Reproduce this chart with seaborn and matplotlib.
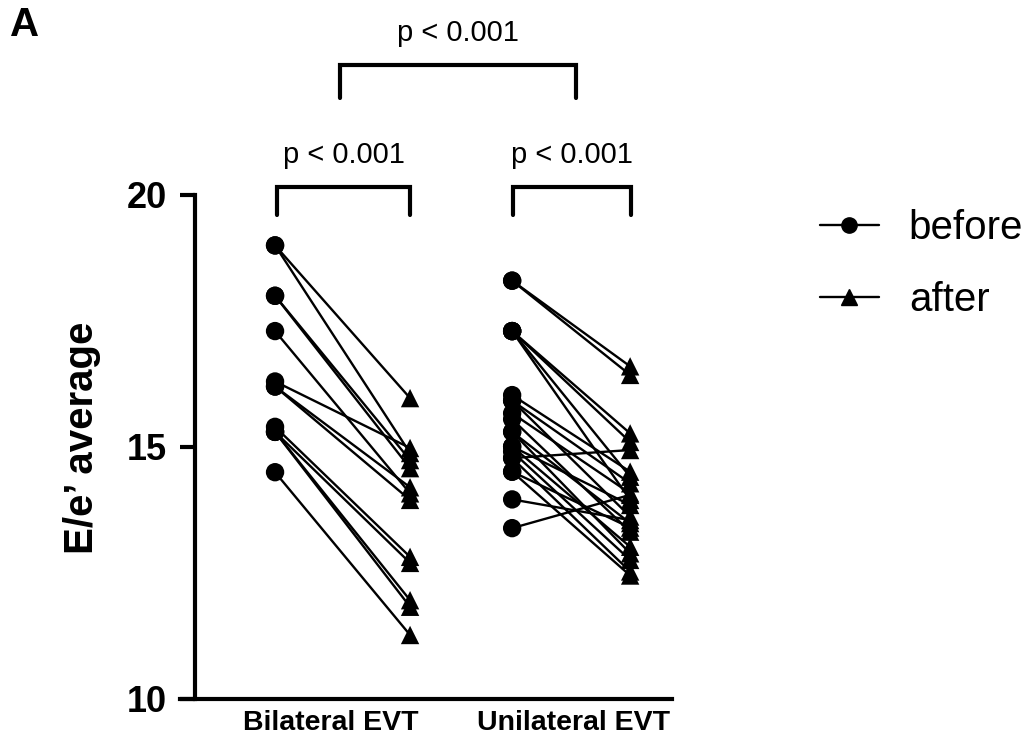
import numpy as np
import pandas as pd
import seaborn as sns
import matplotlib
matplotlib.use("Agg")
import matplotlib.pyplot as plt
from matplotlib.lines import Line2D

# ---------------- data ----------------
groups = ["Bilateral EVT", "Unilateral EVT"]
times = ["before", "after"]

bilateral_before = [19.0, 19.0, 18.0, 18.0, 17.3, 16.3, 16.2, 16.2, 15.4, 15.3, 15.3, 15.3, 14.5]
bilateral_after = [15.97, 14.88, 14.74, 14.58, 14.08, 14.98, 14.2, 13.95, 12.82, 12.7, 11.96, 11.83, 11.27]

unilateral_before = [18.3, 18.3, 17.3, 17.3, 17.3, 17.3, 16.03, 15.92, 15.92, 15.67, 15.55,
                     15.3, 15.3, 15.01, 14.78, 14.91, 14.78, 14.51, 14.51, 13.96, 13.39, 15.01]
unilateral_after = [16.6, 16.43, 15.27, 15.10, 14.41, 13.95, 14.51, 14.28, 13.62, 14.08, 13.32,
                    13.49, 12.89, 13.02, 14.94, 12.76, 12.53, 12.45, 13.4, 13.55, 14.05, 13.85]

p_labels = ["p < 0.001", "p < 0.001", "p < 0.001"]
y_ticks = [10, 15, 20]
y_label = "E/e\u2019 average"

# ---------------- layout (positions, not data) ----------------
xpos = {("Bilateral EVT", "before"): 0.0, ("Bilateral EVT", "after"): 1.0,
        ("Unilateral EVT", "before"): 1.756, ("Unilateral EVT", "after"): 2.63}
label_pos = [0.41, 2.21]

rows = []
sid = 0
for g, bef, aft in [("Bilateral EVT", bilateral_before, bilateral_after),
                    ("Unilateral EVT", unilateral_before, unilateral_after)]:
    for b, a in zip(bef, aft):
        rows.append(dict(group=g, time="before", subject=sid, value=b, x=xpos[(g, "before")]))
        rows.append(dict(group=g, time="after", subject=sid, value=a, x=xpos[(g, "after")]))
        sid += 1
df = pd.DataFrame(rows)

sns.set_style("white")
plt.rcParams["font.family"] = ["Liberation Sans", "DejaVu Sans"]
plt.rcParams["text.color"] = "black"
plt.rcParams["axes.labelcolor"] = "black"
plt.rcParams["xtick.color"] = "black"
plt.rcParams["ytick.color"] = "black"

fig = plt.figure(figsize=(10.29, 7.47), dpi=100)
ax = fig.add_axes([180 / 1029, 48 / 747, 492 / 1029, 504 / 747])

sns.lineplot(data=df, x="x", y="value", units="subject", estimator=None,
             color="black", lw=1.7, ax=ax, legend=False, sort=False)
sns.scatterplot(data=df, x="x", y="value", style="time",
                markers={"before": "o", "after": "^"}, color="black",
                s=175, edgecolor="black", linewidth=0, ax=ax, legend=False, zorder=3)

for s in ["top", "right"]:
    ax.spines[s].set_visible(False)
for s in ["left", "bottom"]:
    ax.spines[s].set_linewidth(3)
    ax.spines[s].set_color("black")
ax.spines["left"].set_position(("data", -0.593))

ax.set_xlim(-0.704, 2.94)
ax.set_ylim(10, 20)
ax.spines["left"].set_bounds(10, 20)
ax.set_yticks(y_ticks)
ax.set_yticklabels([str(t) for t in y_ticks], fontsize=26, fontweight="bold")
ax.set_xticks(label_pos)
ax.set_xticklabels(groups, fontsize=20.5, fontweight="bold")
ax.tick_params(axis="x", length=0, pad=8)
ax.tick_params(axis="y", length=11, width=3, pad=9, direction="out", left=True)

ax.set_xlabel("")
ax.set_ylabel(y_label, fontsize=29, fontweight="bold")
ax.yaxis.set_label_coords(-0.160, 0.518)

# significance brackets
def bracket(x1, x2, ytop, ybot, label, ytext):
    ax.plot([x1, x1, x2, x2], [ybot, ytop, ytop, ybot], color="black", lw=3,
            clip_on=False, solid_joinstyle="miter", solid_capstyle="round")
    ax.text((x1 + x2) / 2, ytext, label, ha="center", va="center", fontsize=21)

bracket(0.015, 1.0, 20.16, 19.6, p_labels[0], 20.79)
bracket(1.763, 2.637, 20.16, 19.6, p_labels[1], 20.79)
bracket(0.48, 2.23, 22.58, 21.92, p_labels[2], 23.21)

# legend
handles = [Line2D([], [], color="black", lw=1.7, marker="o", markersize=11, label="before"),
           Line2D([], [], color="black", lw=1.7, marker="^", markersize=11, label="after")]
fig.legend(handles=handles, loc="center left", bbox_to_anchor=(792 / 1029, 1 - 264 / 747),
           frameon=False, fontsize=29, handlelength=1.45, handletextpad=0.75,
           labelspacing=0.85, borderpad=0.2)

fig.text(10 / 1029, 1 - 25 / 747, "A", fontsize=29, fontweight="bold", va="center", ha="left")

fig.savefig("out.png", dpi=100)
